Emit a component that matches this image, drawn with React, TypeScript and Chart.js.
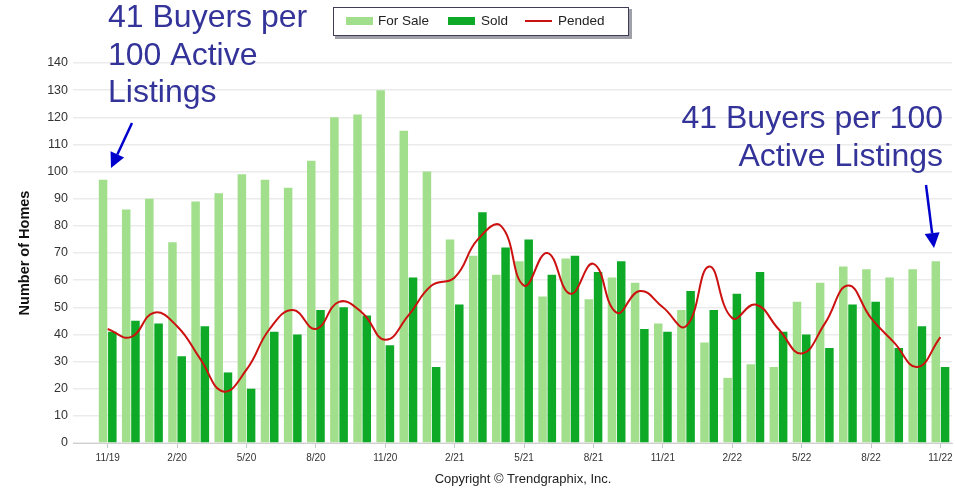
import React, { useEffect, useRef } from 'react';
import { Chart, registerables } from 'chart.js';

Chart.register(...registerables);

const months = [
  '11/19', '12/19',
  '1/20', '2/20', '3/20', '4/20', '5/20', '6/20', '7/20', '8/20', '9/20', '10/20', '11/20', '12/20',
  '1/21', '2/21', '3/21', '4/21', '5/21', '6/21', '7/21', '8/21', '9/21', '10/21', '11/21', '12/21',
  '1/22', '2/22', '3/22', '4/22', '5/22', '6/22', '7/22', '8/22', '9/22', '10/22', '11/22',
];
const shownTicks = ['11/19', '2/20', '5/20', '8/20', '11/20', '2/21', '5/21', '8/21', '11/21', '2/22', '5/22', '8/22', '11/22'];

const forSale = [97, 86, 90, 74, 89, 92, 99, 97, 94, 104, 120, 121, 130, 115, 100, 75, 69, 62, 67, 54, 68, 53, 61, 59, 44, 49, 37, 24, 29, 28, 52, 59, 65, 64, 61, 64, 67];
const sold = [41, 45, 44, 32, 43, 26, 20, 41, 40, 49, 50, 47, 36, 61, 28, 51, 85, 72, 75, 62, 69, 63, 67, 42, 41, 56, 49, 55, 63, 41, 40, 35, 51, 52, 35, 43, 28];
const pended = [42, 39, 48, 43, 31, 19, 27, 42, 49, 42, 52, 48, 38, 47, 58, 61, 75, 80, 58, 70, 55, 66, 48, 56, 50, 43, 65, 46, 51, 42, 33, 44, 58, 46, 37, 28, 39];

const yMax = 140;
const yStep = 10;

const legendItems = ['For Sale', 'Sold', 'Pended'];
const yTitle = 'Number of Homes';
const copyright = 'Copyright \u00A9 Trendgraphix, Inc.';
const noteLeft = ['41 Buyers per', '100 Active', 'Listings'];
const noteRight = ['41 Buyers per 100', 'Active Listings'];

const COL_FORSALE = '#a2df8c';
const COL_SOLD = '#0eaa27';
const COL_PENDED = '#cc1111';
const COL_NOTE = '#333399';
const COL_ARROW = '#0000cc';

function arrow(ctx: CanvasRenderingContext2D, x1: number, y1: number, x2: number, y2: number) {
  const ang = Math.atan2(y2 - y1, x2 - x1);
  const headLen = 15;
  const headW = 7.5;
  const bx = x2 - headLen * Math.cos(ang);
  const by = y2 - headLen * Math.sin(ang);
  ctx.save();
  ctx.strokeStyle = COL_ARROW;
  ctx.fillStyle = COL_ARROW;
  ctx.lineWidth = 2.5;
  ctx.beginPath();
  ctx.moveTo(x1, y1);
  ctx.lineTo(bx, by);
  ctx.stroke();
  ctx.beginPath();
  ctx.moveTo(x2, y2);
  ctx.lineTo(bx + headW * Math.sin(ang), by - headW * Math.cos(ang));
  ctx.lineTo(bx - headW * Math.sin(ang), by + headW * Math.cos(ang));
  ctx.closePath();
  ctx.fill();
  ctx.restore();
}

const overlayPlugin = {
  id: 'overlay',
  afterDraw(chart: any) {
    const ctx: CanvasRenderingContext2D = chart.ctx;
    ctx.save();
    // y axis title
    ctx.save();
    ctx.translate(25, (chart.chartArea.top + chart.chartArea.bottom) / 2);
    ctx.rotate(-Math.PI / 2);
    ctx.font = 'bold 14.5px "Liberation Sans", Arial, sans-serif';
    ctx.fillStyle = '#111';
    ctx.textAlign = 'center';
    ctx.textBaseline = 'middle';
    ctx.fillText(yTitle, 0, 0);
    ctx.restore();

    // legend box
    ctx.fillStyle = '#a0a0a8';
    ctx.fillRect(335, 9, 297, 30);
    ctx.fillStyle = '#ffffff';
    ctx.fillRect(333, 7, 296, 29);
    ctx.strokeStyle = '#3d3d55';
    ctx.lineWidth = 1;
    ctx.strokeRect(333.5, 7.5, 295, 28);
    ctx.font = '13.5px "Liberation Sans", Arial, sans-serif';
    ctx.textBaseline = 'middle';
    ctx.textAlign = 'left';
    ctx.fillStyle = COL_FORSALE;
    ctx.fillRect(346, 17, 27, 8);
    ctx.fillStyle = COL_SOLD;
    ctx.fillRect(448, 17, 27, 8);
    ctx.strokeStyle = COL_PENDED;
    ctx.lineWidth = 2;
    ctx.beginPath();
    ctx.moveTo(525, 21);
    ctx.lineTo(552, 21);
    ctx.stroke();
    ctx.fillStyle = '#222';
    ctx.fillText(legendItems[0], 378, 21.5);
    ctx.fillText(legendItems[1], 481, 21.5);
    ctx.fillText(legendItems[2], 558, 21.5);

    // copyright
    ctx.font = '13px "Liberation Sans", Arial, sans-serif';
    ctx.textAlign = 'center';
    ctx.textBaseline = 'alphabetic';
    ctx.fillStyle = '#222';
    ctx.fillText(copyright, 523, 483);

    // notes
    ctx.font = '32px "Liberation Sans", Arial, sans-serif';
    ctx.fillStyle = COL_NOTE;
    ctx.textAlign = 'left';
    const lb = [27, 65, 102];
    noteLeft.forEach((t, i) => ctx.fillText(t, 108, lb[i]));
    ctx.textAlign = 'right';
    const rb = [128, 166];
    noteRight.forEach((t, i) => ctx.fillText(t, 943, rb[i]));

    arrow(ctx, 132, 123, 111, 168);
    arrow(ctx, 926, 185, 934, 248);
    ctx.restore();
  },
};

export default function App() {
  const ref = useRef<HTMLCanvasElement>(null);
  useEffect(() => {
    document.body.style.margin = '0';
    const labels = ['', ...months];
    const chart = new Chart(ref.current!, {
      type: 'bar',
      data: {
        labels,
        datasets: [
          {
            type: 'bar',
            label: legendItems[0],
            data: [null, ...forSale],
            backgroundColor: COL_FORSALE,
            categoryPercentage: 0.8,
            barPercentage: 0.92,
            order: 1,
          },
          {
            type: 'bar',
            label: legendItems[1],
            data: [null, ...sold],
            backgroundColor: COL_SOLD,
            categoryPercentage: 0.8,
            barPercentage: 0.92,
            order: 1,
          },
          {
            type: 'line',
            label: legendItems[2],
            data: [null, ...pended],
            borderColor: COL_PENDED,
            borderWidth: 2,
            pointRadius: 0,
            tension: 0.45,
            fill: false,
            order: 0,
          } as any,
        ],
      },
      options: {
        responsive: false,
        animation: false,
        layout: { padding: { top: 63, right: 3, left: 0, bottom: 0 } },
        plugins: {
          legend: { display: false },
          tooltip: { enabled: false },
          title: { display: false },
        },
        scales: {
          x: {
            offset: true,
            grid: {
              offset: false,
              drawOnChartArea: false,
              drawTicks: true,
              tickLength: 5,
              color: (c: any) => (shownTicks.includes(labels[c.index] ?? '') ? '#c8c8c8' : 'rgba(0,0,0,0)'),
            },
            border: { display: true, color: '#d0d0d0', width: 1 },
            ticks: {
              autoSkip: false,
              maxRotation: 0,
              padding: 4,
              color: '#333',
              font: { family: '"Liberation Sans", Arial, sans-serif', size: 10 },
              callback: (_v: any, i: number) => (shownTicks.includes(labels[i]) ? labels[i] : ''),
            },
            afterFit: (s: any) => {
              s.height = 45;
              s.paddingLeft = 0;
              s.paddingRight = 0;
            },
          },
          y: {
            min: 0,
            max: yMax,
            ticks: {
              stepSize: yStep,
              padding: 5,
              color: '#333',
              font: { family: '"Liberation Sans", Arial, sans-serif', size: 12.5 },
            },
            grid: { color: '#ebebeb', lineWidth: 1.5, drawTicks: false },
            border: { display: false },
            afterFit: (s: any) => {
              s.width = 73;
            },
          },
        },
      },
      plugins: [overlayPlugin],
    });
    return () => chart.destroy();
  }, []);
  return (
    <div style={{ width: 955, height: 488 }}>
      <canvas ref={ref} width={955} height={488} style={{ display: 'block' }} />
    </div>
  );
}
